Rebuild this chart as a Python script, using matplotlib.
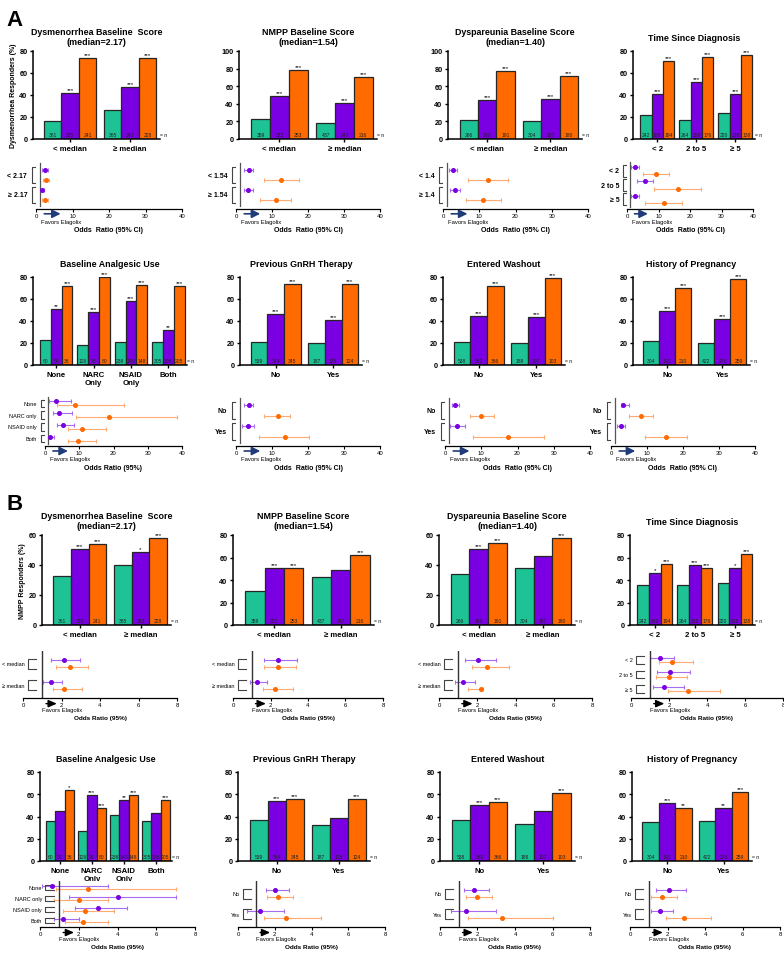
import numpy as np
import matplotlib.pyplot as plt
import matplotlib.transforms as mtransforms

plt.rcParams['font.family'] = ['Liberation Sans', 'DejaVu Sans']

W, H = 784, 954
TEAL = '#1EC395'
PURPLE = '#7A00E3'
ORANGE = '#FF6B00'
NAVY = '#1F3B78'

# ---- shared subgroup info ----
titles = ['Dysmenorrhea Baseline  Score\n(median=2.17)', 'NMPP Baseline Score\n(median=1.54)',
          'Dyspareunia Baseline Score\n(median=1.40)', 'Time Since Diagnosis',
          'Baseline Analgesic Use', 'Previous GnRH Therapy', 'Entered Washout', 'History of Pregnancy']
groups = [['< median', '≥ median'], ['< median', '≥ median'], ['< median', '≥ median'],
          ['< 2', '2 to 5', '≥ 5'], ['None', 'NARC\nOnly', 'NSAID\nOnly', 'Both'],
          ['No', 'Yes'], ['No', 'Yes'], ['No', 'Yes']]
n_counts = [[[361, 225, 241], [365, 243, 228]], [[359, 222, 253], [437, 247, 216]],
            [[266, 180, 191], [304, 187, 180]], [[242, 189, 194], [264, 158, 176], [220, 128, 138]],
            [[60, 50, 36], [126, 78, 80], [238, 140, 148], [305, 196, 205]],
            [[539, 344, 345], [187, 125, 124]], [[538, 362, 366], [188, 107, 103]],
            [[304, 193, 210], [422, 276, 259]]]
forest_labels_A = [['< 2.17', '≥ 2.17'], ['< 1.54', '≥ 1.54'], ['< 1.4', '≥ 1.4'], ['< 2', '2 to 5', '≥ 5'],
                   ['None', 'NARC only', 'NSAID only', 'Both'], ['No', 'Yes'], ['No', 'Yes'], ['No', 'Yes']]
forest_labels_B = [['< median', '≥ median'], ['< median', '≥ median'], ['< median', '≥ median'],
                   ['< 2', '2 to 5', '≥ 5'], ['None', 'NARC only', 'NSAID only', 'Both'],
                   ['No', 'Yes'], ['No', 'Yes'], ['No', 'Yes']]

# ---- A: dysmenorrhea responders (%) ----
A_pbo = [[16, 26], [23, 18], [22, 20], [22, 17, 24], [23, 18, 21, 21], [21, 20], [21, 20], [22, 20]]
A_e150 = [[42, 47], [49, 41], [44, 45], [41, 52, 41], [51, 48, 58, 32], [46, 41], [45, 44], [49, 42]]
A_e200 = [[74, 74], [78, 70], [77, 72], [71, 75, 76], [72, 80, 73, 72], [74, 74], [72, 79], [70, 78]]
A_s150 = [['***', '***'], ['***', '***'], ['***', '***'], ['***', '***', '***'],
          ['**', '***', '***', '**'], ['***', '***'], ['***', '***'], ['***', '***']]
A_s200 = [['***', '***'], ['***', '***'], ['***', '***'], ['***', '***', '***'],
          ['***', '***', '***', '***'], ['***', '***'], ['***', '***'], ['***', '***']]
A_ymax = [80, 100, 100, 80, 80, 80, 80, 80]

# odds ratios (95% CI), A
A_or150 = [[2.4, 1.7], [3.5, 3.3], [2.8, 3.3], [2.6, 5.8, 2.6], [3.2, 4.0, 5.4, 1.5], [3.5, 3.3], [2.8, 3.4], [3.3, 2.8]]
A_lo150 = [[1.7, 1.2], [2.1, 2.1], [1.7, 1.9], [1.4, 3.2, 1.4], [1.3, 2.2, 3.4, 0.8], [2.3, 1.6], [1.9, 1.4], [2.8, 1.7]]
A_hi150 = [[3.3, 2.2], [4.7, 4.6], [3.9, 4.8], [3.9, 8.4, 3.9], [7.5, 7.8, 8.5, 2.6], [4.7, 5.0], [3.9, 5.4], [4.9, 3.8]]
A_or200 = [[2.8, 2.4], [12.6, 11.0], [12.3, 11.1], [9.2, 16.1, 11.7], [8.7, 18.7, 10.8, 9.6], [11.6, 13.5], [10.0, 17.3], [8.2, 15.3]]
A_lo200 = [[1.9, 1.7], [7.7, 6.8], [6.9, 6.3], [5.1, 8.7, 5.8], [3.4, 9.1, 6.7, 6.7], [7.9, 6.4], [6.8, 7.6], [4.9, 9.4]]
A_hi200 = [[3.5, 3.2], [17.6, 15.3], [17.8, 15.9], [13.4, 23.5, 17.6], [23.2, 38.5, 17.8, 14.9], [15.1, 20.3], [13.5, 27.3], [11.7, 21.1]]

# ---- B: NMPP responders (%) ----
B_pbo = [[33, 40], [30, 43], [34, 38], [36, 36, 37], [36, 27, 41, 36], [37, 32], [37, 33], [35, 36]]
B_e150 = [[51, 49], [51, 49], [51, 46], [46, 53, 51], [45, 59, 55, 43], [54, 39], [50, 45], [52, 48]]
B_e200 = [[54, 58], [51, 62], [55, 58], [54, 51, 63], [64, 48, 59, 55], [56, 56], [53, 61], [48, 62]]
B_s150 = [['***', '*'], ['***', ''], ['***', ''], ['*', '***', '*'],
          ['', '***', '**', ''], ['***', ''], ['***', ''], ['***', '**']]
B_s200 = [['***', '***'], ['***', '***'], ['***', '***'], ['***', '***', '***'],
          ['*', '***', '***', '***'], ['***', '***'], ['***', '***'], ['**', '***']]
B_ymax = [60, 80, 60, 80, 80, 80, 80, 80]

B_or150 = [[2.12, 1.46], [2.41, 1.30], [2.04, 1.28], [1.54, 2.07, 1.75], [0.6, 4.0, 3.0, 1.2], [2.0, 1.2], [1.8, 1.4], [2.1, 1.6]]
B_lo150 = [[1.48, 1.03], [1.66, 0.89], [1.37, 0.84], [1.02, 1.37, 1.16], [0.1, 1.5, 1.8, 0.7], [1.5, 0.5], [1.3, 0.6], [1.4, 1.1]]
B_hi150 = [[2.96, 2.03], [3.39, 1.82], [3.0, 1.89], [2.25, 3.09, 2.77], [3.5, 7.0, 4.5, 2.0], [2.8, 2.5], [2.6, 3.0], [3.0, 2.3]]
B_or200 = [[2.43, 2.12], [2.38, 2.25], [2.51, 2.21], [2.16, 1.98, 3.0], [2.5, 2.0, 2.3, 2.2], [2.2, 2.6], [2.0, 3.3], [1.7, 2.9]]
B_lo200 = [[1.74, 1.55], [1.66, 1.61], [1.72, 1.54], [1.46, 1.33, 1.95], [0.8, 0.7, 1.2, 1.3], [1.6, 1.4], [1.4, 1.5], [1.1, 1.9]]
B_hi200 = [[3.39, 3.04], [3.34, 3.18], [3.68, 2.3], [3.25, 2.95, 4.67], [7.0, 3.5, 3.8, 3.5], [3.0, 4.5], [2.8, 6.0], [2.5, 4.3]]

fig = plt.figure(figsize=(W / 100, H / 100), dpi=100)


def px_axes(l, t, r, b):
    return fig.add_axes([l / W, 1 - b / H, (r - l) / W, (b - t) / H])


def bar_panel(ax, i, pbo, e150, e200, s150, s200, ymax, ylabel=None):
    g = len(groups[i])
    x = np.arange(g)
    w = 0.29
    offs = (-w, 0, w)
    for vals, off, col in zip((pbo[i], e150[i], e200[i]), offs, (TEAL, PURPLE, ORANGE)):
        ax.bar(x + off, vals, w, color=col, edgecolor='#262626', linewidth=0.9, zorder=2)
    for k in range(g):
        for j, off in enumerate(offs):
            ax.text(x[k] + off, ymax * 0.025, str(n_counts[i][k][j]), ha='center', va='bottom',
                    fontsize=3.6, color='#222222', zorder=3)
        ax.text(x[k], e150[i][k] + ymax * 0.01, s150[i][k], ha='center', va='bottom', fontsize=4.5)
        ax.text(x[k] + w, e200[i][k] + ymax * 0.01, s200[i][k], ha='center', va='bottom', fontsize=4.5)
    ax.text(g - 1 + 0.5, ymax * 0.025, '= n', ha='left', va='bottom', fontsize=3.6, clip_on=False)
    ax.set_xlim(-0.62, g - 1 + 0.5)
    ax.set_ylim(0, ymax)
    ax.set_yticks(np.arange(0, ymax + 1, 20))
    ax.set_xticks(x)
    ax.set_xticklabels(groups[i], fontsize=5.6, fontweight='bold', linespacing=1.1)
    for lab in ax.get_yticklabels():
        lab.set_fontweight('bold')
    ax.tick_params(axis='y', labelsize=5.2, length=2.5, width=1, pad=1.5)
    ax.tick_params(axis='x', length=2.5, width=1, pad=2)
    for s in ('top', 'right'):
        ax.spines[s].set_visible(False)
    for s in ('left', 'bottom'):
        ax.spines[s].set_linewidth(1.1)
    pad = 5 if '\n' in titles[i] else 8
    ax.set_title(titles[i], fontsize=6.4, fontweight='bold', pad=pad, linespacing=1.15)
    if ylabel:
        ax.set_ylabel(ylabel, fontsize=5, fontweight='bold', labelpad=2)


def forest_panel(ax, labels, o1, l1, h1, o2, l2, h2, xmax, style):
    g = len(labels)
    if style == 'A':
        r = 0.35 if g == 4 else 0.5
    else:
        r = 0.33
    y1 = np.arange(g, dtype=float)
    y2 = y1 + r
    ax.errorbar(o1, y1, xerr=[np.subtract(o1, l1), np.subtract(h1, o1)], fmt='o', ms=2.6,
                color=PURPLE, ecolor='#A86CF0', elinewidth=0.8, capsize=1.6, capthick=0.8)
    ax.errorbar(o2, y2, xerr=[np.subtract(o2, l2), np.subtract(h2, o2)], fmt='o', ms=2.6,
                color=ORANGE, ecolor='#FFAA70', elinewidth=0.8, capsize=1.6, capthick=0.8)
    ax.set_ylim(g - 1 + r + 0.45, -0.45)
    ax.set_xlim(0, xmax)
    ax.set_yticks([])
    ax.set_xticks(np.arange(0, xmax + 1, xmax // 4))
    for s in ('top', 'right', 'left'):
        ax.spines[s].set_visible(False)
    ax.spines['bottom'].set_linewidth(0.9)
    ax.tick_params(axis='x', labelsize=4.3, length=2, width=0.8, pad=1)
    bt = mtransforms.blended_transform_factory(ax.transAxes, ax.transData)
    dt = mtransforms.blended_transform_factory(ax.transData, ax.transAxes)
    if style == 'A':
        ax.plot([1, 1], [-0.35, g - 1 + r + 0.3], color='#555555', lw=0.9)
        for k in range(g):
            ax.plot([-0.01, -0.03, -0.03, -0.01], [y1[k] - 0.15, y1[k] - 0.15, y2[k] + 0.15, y2[k] + 0.15],
                    transform=bt, color='#444444', lw=0.8, clip_on=False)
            fw = 'normal' if g == 4 else 'bold'
            fs = 4.0 if g == 4 else 5.0
            ax.text(-0.06, (y1[k] + y2[k]) / 2, labels[k], transform=bt, ha='right', va='center',
                    fontsize=fs, fontweight=fw)
        ax.annotate('', xy=(7.5 * xmax / 40, -0.1), xytext=(1 * xmax / 40 + 0.5, -0.1),
                    xycoords=dt, textcoords=dt,
                    arrowprops=dict(arrowstyle='-|>,head_length=0.5,head_width=0.25', color=NAVY, lw=1.2))
        ax.text(1.5 * xmax / 40, -0.2, 'Favors Elagolix', transform=dt, ha='left', va='top', fontsize=4.2)
        xl = 'Odds  Ratio (95% CI)' if g != 4 else 'Odds Ratio (95%)'
        ax.text(0.5, -0.36, xl, transform=ax.transAxes, ha='center', va='top', fontsize=5,
                fontweight='bold')
    else:
        ax.plot([1, 1], [-0.45, g - 1 + r + 0.45], color='#333333', lw=1.0)
        for k in range(g):
            ax.plot([0.7, 0.25, 0.25, 0.7], [y1[k] - 0.08, y1[k] - 0.08, y2[k] + 0.08, y2[k] + 0.08],
                    color='#444444', lw=0.8, clip_on=False)
            ax.text(0.1, (y1[k] + y2[k]) / 2, labels[k], ha='right', va='center', fontsize=4.0)
        ax.annotate('', xy=(1.9, -0.12), xytext=(1.05, -0.12), xycoords=dt, textcoords=dt,
                    arrowprops=dict(arrowstyle='-|>,head_length=0.5,head_width=0.22', color='black', lw=1.0))
        ax.text(1.0, -0.2, 'Favors Elagolix', transform=dt, ha='left', va='top', fontsize=4.2)
        ax.text(0.5, -0.36, 'Odds Ratio (95%)', transform=ax.transAxes, ha='center', va='top',
                fontsize=4.6, fontweight='bold')


# pixel boxes (left, right) per column and (top, bottom) per row
bar_cols = {
    'A1': [(33, 160), (239, 377), (448, 582), (633, 755)],
    'A2': [(33, 187), (240, 362), (443, 565), (633, 750)],
    'B1': [(42, 171), (233, 374), (439, 575), (630, 755)],
    'B2': [(40, 172), (238, 370), (440, 575), (632, 752)],
}
bar_rows = {'A1': (52, 140), 'A2': (278, 366), 'B1': (536, 626), 'B2': (773, 862)}
for_cols = {
    'A1': [(36, 182), (236, 380), (443, 588), (627, 753)],
    'A2': [(45, 182), (236, 380), (445, 590), (611, 755)],
    'B1': [(23, 177), (233, 383), (439, 592), (631, 783)],
    'B2': [(40, 195), (238, 385), (440, 590), (630, 780)],
}
for_rows = {'A1': (162, 210), 'A2': (397, 447), 'B1': (652, 699), 'B2': (882, 928)}

for key in ('A1', 'A2', 'B1', 'B2'):
    part = key[0]
    base = 0 if key[1] == '1' else 4
    for c in range(4):
        i = base + c
        l, r = bar_cols[key][c]
        t, b = bar_rows[key]
        ax = px_axes(l, t, r, b)
        if part == 'A':
            bar_panel(ax, i, A_pbo, A_e150, A_e200, A_s150, A_s200, A_ymax[i],
                      'Dysmenorrhea Responders (%)' if i == 0 else None)
        else:
            bar_panel(ax, i, B_pbo, B_e150, B_e200, B_s150, B_s200, B_ymax[i],
                      'NMPP Responders (%)' if i == 0 else None)
        l, r = for_cols[key][c]
        t, b = for_rows[key]
        fx = px_axes(l, t, r, b)
        if part == 'A':
            forest_panel(fx, forest_labels_A[i], A_or150[i], A_lo150[i], A_hi150[i],
                         A_or200[i], A_lo200[i], A_hi200[i], 40, 'A')
        else:
            forest_panel(fx, forest_labels_B[i], B_or150[i], B_lo150[i], B_hi150[i],
                         B_or200[i], B_lo200[i], B_hi200[i], 8, 'B')

fig.text(6 / W, 1 - 20 / H, 'A', fontsize=16, fontweight='bold', va='center', ha='left')
fig.text(6 / W, 1 - 505 / H, 'B', fontsize=16, fontweight='bold', va='center', ha='left')

fig.savefig('out.png', dpi=100)
